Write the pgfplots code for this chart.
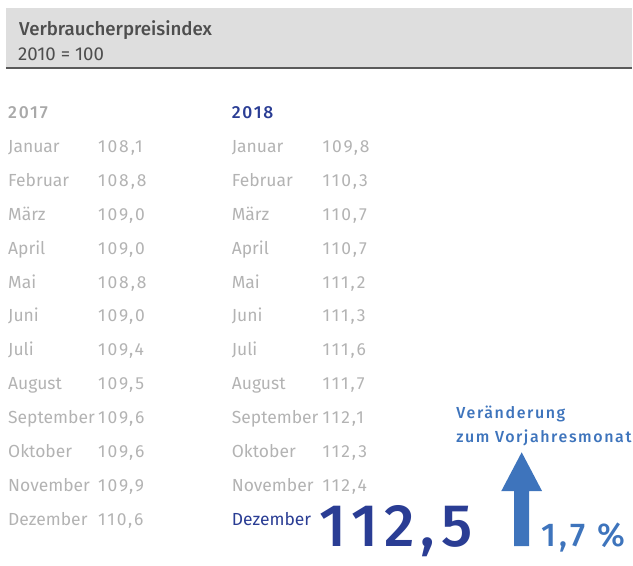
\documentclass[border=0pt]{standalone}
\usepackage{fontspec}
\setmainfont{Fira Sans}
\newfontfamily\medfont{Fira Sans Medium}
\newfontfamily\medwide{Fira Sans Medium}[LetterSpace=10]
\newfontfamily\numfont{Fira Sans}[LetterSpace=11]
\usepackage{pgfplots}
\usepackage{pgfplotstable}
\pgfplotsset{compat=1.18}
\definecolor{boxGray}{HTML}{DEDEDE}
\definecolor{ruleGray}{HTML}{5A5A5A}
\definecolor{titleInk}{HTML}{4E4E4E}
\definecolor{softGray}{HTML}{B3B3B3}
\definecolor{headGray}{HTML}{A9A9A9}
\definecolor{deepBlue}{HTML}{2A3D94}
\definecolor{skyBlue}{HTML}{3E74BC}

% Verbraucherpreisindex, 2010 = 100
\pgfplotstableread{
row month value
1 Januar 108.1
2 Februar 108.8
3 März 109.0
4 April 109.0
5 Mai 108.8
6 Juni 109.0
7 Juli 109.4
8 August 109.5
9 September 109.6
10 Oktober 109.6
11 November 109.9
12 Dezember 110.6
}\vpiSeventeen
\pgfplotstableread{
row month value
1 Januar 109.8
2 Februar 110.3
3 März 110.7
4 April 110.7
5 Mai 111.2
6 Juni 111.3
7 Juli 111.6
8 August 111.7
9 September 112.1
10 Oktober 112.3
11 November 112.4
12 Dezember 112.5
}\vpiEighteen

\newcommand\rowfont{\fontsize{17.5bp}{20bp}\selectfont}

\begin{document}
\begin{tikzpicture}
\begin{axis}[
  scale only axis, width=633bp, height=566bp,
  xmin=0, xmax=633, ymin=0, ymax=566, y dir=reverse,
  hide axis, clip=false,
  every node near coord/.append style={anchor=base west, inner sep=0pt},
  /pgf/number format/.cd, use comma, fixed, fixed zerofill, precision=1, assume math mode=true,
]
\path (axis cs:0,0) rectangle (axis cs:633,566);
% header band
\fill[boxGray] (axis cs:6,8) rectangle (axis cs:633,68);
\draw[ruleGray, line width=2bp] (axis cs:6,68.5) -- (axis cs:633,68.5);
\node[anchor=base west, inner sep=0pt, text=titleInk, font=\medfont\fontsize{18.7bp}{22bp}\selectfont] at (axis cs:19,35.5) {Verbraucherpreisindex};
\node[anchor=base west, inner sep=0pt, text=titleInk, font=\fontsize{18.7bp}{21bp}\selectfont] at (axis cs:18,61) {2010 = 100};
% year headers
\node[anchor=base west, inner sep=0pt, text=headGray, font=\medwide\rowfont] at (axis cs:8,118.5) {2017};
\node[anchor=base west, inner sep=0pt, text=deepBlue, font=\medwide\rowfont] at (axis cs:232,118.5) {2018};
\pgfplotsset{every axis plot/.append style={only marks, mark=*, mark size=0pt, mark options={draw=none, fill=none}}}
% 2017
\addplot[nodes near coords, point meta=explicit symbolic,
  every node near coord/.append style={text=softGray, font=\rowfont}]
  table[x expr=8, y expr=118.5+34*\thisrow{row}, meta=month] {\vpiSeventeen};
\addplot[nodes near coords, point meta=\thisrow{value},
  every node near coord/.append style={text=softGray, font=\numfont\rowfont}]
  table[x expr=98, y expr=118.5+34*\thisrow{row}] {\vpiSeventeen};
% 2018
\addplot[nodes near coords, point meta=explicit symbolic, skip coords between index={11}{12},
  every node near coord/.append style={text=softGray, font=\rowfont}]
  table[x expr=232, y expr=118.5+34*\thisrow{row}, meta=month] {\vpiEighteen};
\addplot[nodes near coords, point meta=\thisrow{value}, skip coords between index={11}{12},
  every node near coord/.append style={text=softGray, font=\numfont\rowfont}]
  table[x expr=323, y expr=118.5+34*\thisrow{row}] {\vpiEighteen};
\addplot[nodes near coords, point meta=explicit symbolic, skip coords between index={0}{11},
  every node near coord/.append style={text=deepBlue, font=\rowfont}]
  table[x expr=232, y expr=118.5+34*\thisrow{row}, meta=month] {\vpiEighteen};
\addplot[nodes near coords, point meta=\thisrow{value}, skip coords between index={0}{11},
  every node near coord/.append style={text=deepBlue, font=\medwide\fontsize{60bp}{62bp}\selectfont}]
  table[x expr=320, y expr=547] {\vpiEighteen};
\addplot[nodes near coords, point meta=explicit symbolic,
  every node near coord/.append style={text=skyBlue, font=\medwide\fontsize{33bp}{35bp}\selectfont}]
  coordinates {(542,547) [1,7 \%]};
% change to previous year: arrow
\pgfplotsset{every axis plot/.append style={sharp plot, mark=none}}
\addplot[fill=skyBlue, draw=none] coordinates {
  (515,547) (515,492) (502,492) (522.5,453) (543,492) (530,492) (530,547)};
\node[anchor=base west, inner sep=0pt, text=skyBlue, font=\medwide\fontsize{16bp}{18bp}\selectfont] at (axis cs:457,419.5) {Veränderung};
\node[anchor=base west, inner sep=0pt, text=skyBlue, font=\medwide\fontsize{16bp}{18bp}\selectfont] at (axis cs:457,443) {zum Vorjahresmonat};
\end{axis}
\end{tikzpicture}
\end{document}
